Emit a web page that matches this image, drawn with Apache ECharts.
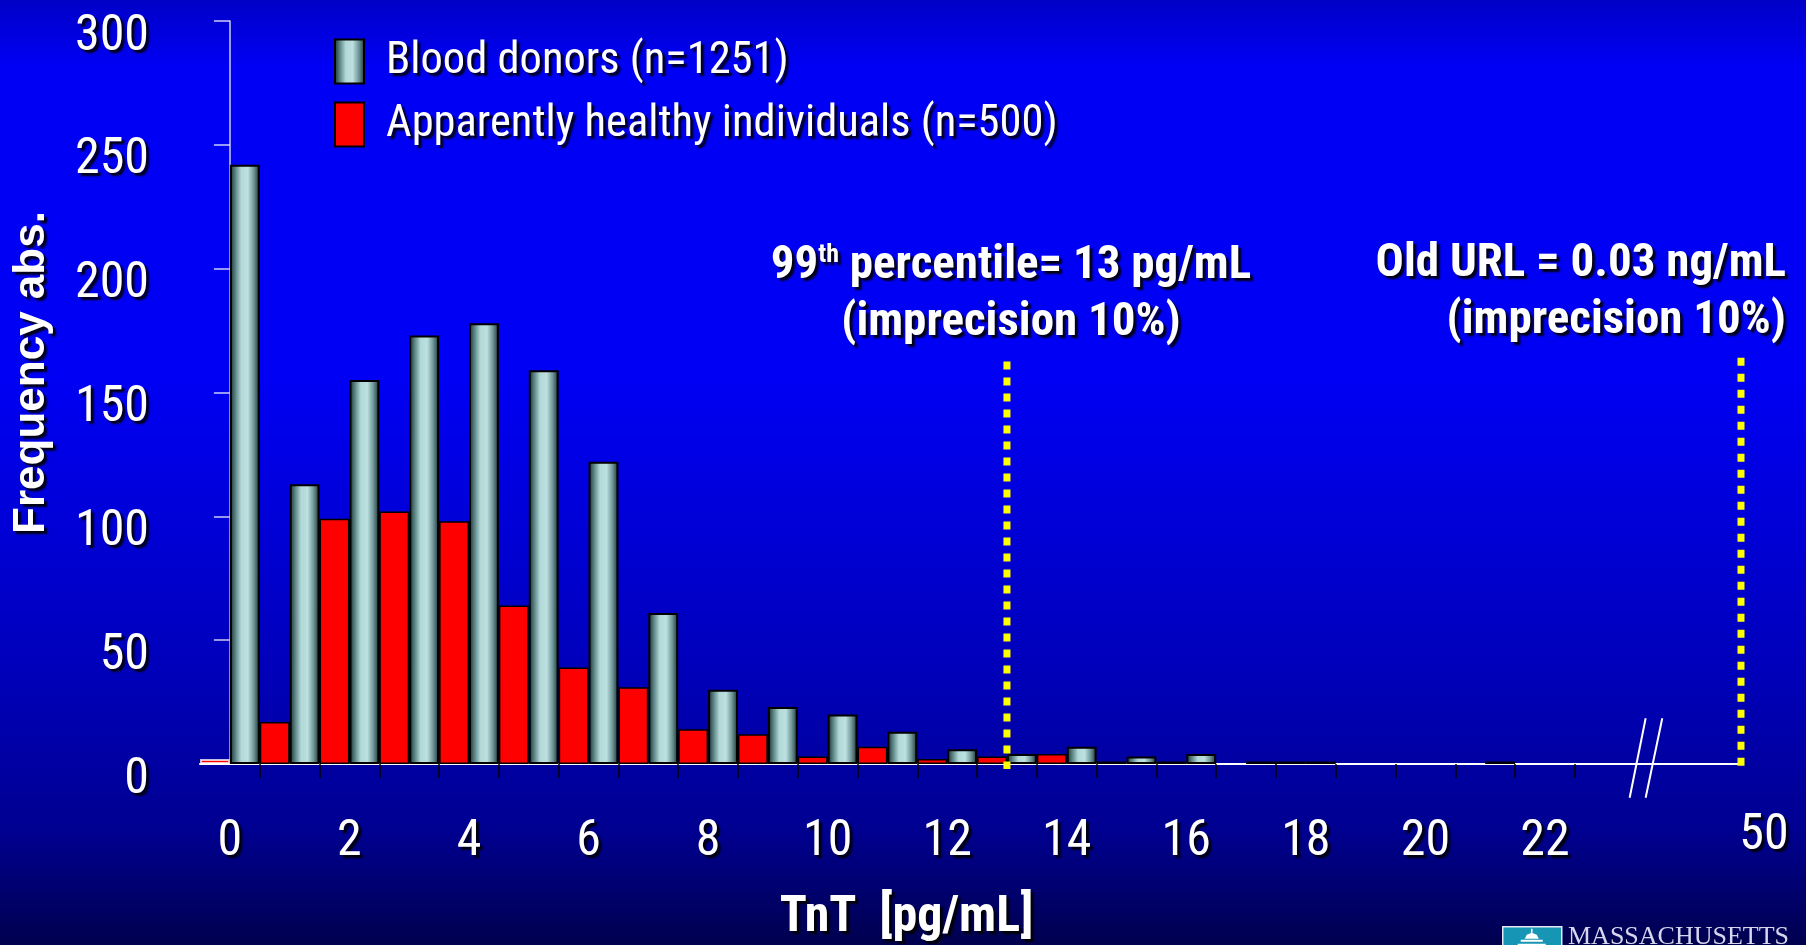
<!DOCTYPE html>
<html>
<head>
<meta charset="utf-8">
<title>TnT distribution</title>
<script src="https://cdn.jsdelivr.net/npm/echarts@6/dist/echarts.min.js"></script>
<style>
  html, body { margin: 0; padding: 0; width: 1806px; height: 945px; overflow: hidden; }
  #chart { width: 1806px; height: 945px; }
</style>
</head>
<body>
<div id="chart"></div>
<script>
// TnT bins in pg/mL; each bin holds one bar pair (healthy left, donors right)
const tntBins = [0, 1, 2, 3, 4, 5, 6, 7, 8, 9, 10, 11, 12, 13, 14, 15, 16, 17, 18, 19, 20, 21, 22];
const healthyCounts = [2, 17, 99, 102, 98, 64, 39, 31, 14, 12, 3, 7, 2, 3, 4, 1, 1, 0, 1, 0, 0, 0, 0];
const donorCounts = [242, 113, 155, 173, 178, 159, 122, 61, 30, 23, 20, 13, 6, 4, 7, 3, 4, 1, 1, 0, 0, 1, 0];

// axis labels
const xTickValues = [0, 2, 4, 6, 8, 10, 12, 14, 16, 18, 20, 22];
const farTickValue = 50;            // value shown after the axis break
const yMax = 300;
const yStep = 50;

// cut-off markers (pg/mL) and the heights their dotted lines span
const markerValues = [13, 50];
const markerTops = [162.5, 164];
const markerBottoms = [-2, -0.7];

const seriesNames = ['Apparently healthy individuals (n=500)', 'Blood donors (n=1251)'];

// broken axis: bins run up to 22.5, then the axis jumps to 50
const LAST_EDGE = tntBins[tntBins.length - 1] + 0.5;
const AXIS_END = 25.28;
const AXIS_BREAK = 23.67;
const axisPos = v => (v <= LAST_EDGE ? v : AXIS_END);

// Roboto with a condensed width stands in for a narrow sans
const NARROW = 'Roboto';
const SANS = "'Liberation Sans', Arial, sans-serif";
const SERIF = "'Liberation Serif', 'DejaVu Serif', serif";
const shadow = { textShadowColor: 'rgba(0,0,0,0.9)', textShadowBlur: 2, textShadowOffsetX: 3, textShadowOffsetY: 3 };

const donorGradient = {
  type: 'linear', x: 0, y: 0, x2: 1, y2: 0,
  colorStops: [
    { offset: 0, color: '#142a2c' },
    { offset: 0.18, color: '#5a8283' },
    { offset: 0.38, color: '#b2d8d8' },
    { offset: 0.6, color: '#bde0e0' },
    { offset: 0.8, color: '#6f9698' },
    { offset: 1, color: '#182e30' }
  ]
};

function barData(counts, firstStyle) {
  const out = [];
  tntBins.forEach((b, i) => {
    if (counts[i] > 0) {
      const item = { value: [b, counts[i]] };
      if (i === 0 && firstStyle) item.itemStyle = firstStyle;
      out.push(item);
    }
  });
  return out;
}

const chart = echarts.init(document.getElementById('chart'), null, { renderer: 'canvas' });

const markerSeries = markerValues.map((v, i) => ({
  type: 'line',
  name: 'marker' + i,
  silent: true,
  clip: false,
  symbol: 'none',
  z: 4,
  lineStyle: { color: '#ffff00', width: 7, type: [8, 8], cap: 'butt' },
  emphasis: { disabled: true },
  data: [[axisPos(v), markerTops[i]], [axisPos(v), markerBottoms[i]]]
}));

const option = {
  animation: false,
  backgroundColor: {
    type: 'linear', x: 0, y: 0, x2: 0, y2: 1,
    colorStops: [
      { offset: 0, color: '#0000c8' },
      { offset: 0.07, color: '#0000f4' },
      { offset: 0.4, color: '#0000f4' },
      { offset: 0.72, color: '#0000b8' },
      { offset: 0.88, color: '#000090' },
      { offset: 1, color: '#00004e' }
    ]
  },
  grid: { left: 200, right: 65, top: 21, bottom: 181, containLabel: false, outerBoundsMode: 'none' },
  legend: {
    orient: 'vertical',
    left: 334, top: 38,
    padding: 0,
    itemWidth: 29, itemHeight: 44, itemGap: 16,
    icon: 'rect',
    data: [seriesNames[1], seriesNames[0]],
    textStyle: {
      color: '#fff', fontFamily: NARROW, fontWeight: 'condensed', fontSize: 44.5, lineHeight: 44,
      padding: [3, 0, 0, 17], ...shadow
    }
  },
  xAxis: {
    type: 'value',
    min: -0.5, max: AXIS_END,
    name: 'TnT  [pg/mL]',
    nameLocation: 'middle',
    nameGap: 129,
    nameTextStyle: {
      color: '#fff', fontFamily: NARROW, fontWeight: 'bold condensed', fontSize: 50,
      padding: [0, 128, 0, 0], ...shadow
    },
    splitLine: { show: false },
    axisLine: { show: true, onZero: false, lineStyle: { color: '#ffffff', width: 2 } },
    axisTick: {
      show: true, length: 14,
      customValues: tntBins.map(b => b + 0.5),
      lineStyle: { color: '#000', width: 1.5 }
    },
    axisLabel: {
      customValues: xTickValues.concat([axisPos(farTickValue)]),
      formatter: v => (v === axisPos(farTickValue) ? '{far|' + farTickValue + '}' : String(v)),
      margin: 53, lineHeight: 50,
      color: '#fff', fontFamily: NARROW, fontWeight: 'condensed', fontSize: 50, ...shadow,
      rich: {
        far: {
          color: '#fff', fontFamily: NARROW, fontWeight: 'condensed', fontSize: 50, lineHeight: 38,
          padding: [0, 0, 0, 46], ...shadow
        }
      }
    }
  },
  yAxis: {
    type: 'value',
    min: 0, max: yMax, interval: yStep,
    name: 'Frequency abs.',
    nameLocation: 'middle',
    nameRotate: 90,
    nameGap: 146,
    nameTextStyle: {
      color: '#fff', fontFamily: SANS, fontWeight: 'bold', fontSize: 44,
      padding: [0, 0, 0, 40], ...shadow
    },
    splitLine: { show: false },
    axisLine: { show: true, lineStyle: { color: 'rgba(255,255,255,0.8)', width: 1.5 } },
    axisTick: { show: true, length: 16, lineStyle: { color: 'rgba(255,255,255,0.8)', width: 1.5 } },
    axisLabel: {
      margin: 51, verticalAlign: 'top', lineHeight: 32,
      color: '#fff', fontFamily: NARROW, fontWeight: 'condensed', fontSize: 50, ...shadow
    }
  },
  series: [
    {
      name: seriesNames[0],
      type: 'bar',
      barGap: '0%', barCategoryGap: '0%',
      itemStyle: { color: '#ff0000', borderColor: '#000', borderWidth: 1.5 },
      emphasis: { disabled: true },
      data: barData(healthyCounts, { borderColor: 'rgba(255,255,255,0.75)', borderWidth: 2 })
    },
    {
      name: seriesNames[1],
      type: 'bar',
      barGap: '0%', barCategoryGap: '0%',
      itemStyle: { color: donorGradient, borderColor: '#000', borderWidth: 2 },
      emphasis: { disabled: true },
      data: barData(donorCounts)
    }
  ].concat(markerSeries)
};

chart.setOption(option);

// annotations, axis-break marks and the footer logo, placed from the chart's own scales
const px = p => chart.convertToPixel({ gridIndex: 0 }, p);
const [p99x, p99top] = px([axisPos(markerValues[0]), markerTops[0]]);
const [urlX, urlTop] = px([axisPos(markerValues[1]), markerTops[1]]);
const [brkX, brkY] = px([AXIS_BREAK, 0]);

const anno = { fill: '#fff', fontFamily: NARROW, fontWeight: 'bold condensed', fontSize: 47, lineHeight: 57, ...shadow };

chart.setOption({
  graphic: [
    {
      type: 'text', silent: true,
      style: {
        x: p99x + 4, y: p99top - 10,
        align: 'center', verticalAlign: 'bottom',
        text: '{b|99}{sup|th}{b| percentile= 13 pg/mL}\n{b|(imprecision 10%)}',
        rich: {
          b: anno,
          sup: { ...anno, fontSize: 26, lineHeight: 26, verticalAlign: 'top', padding: [5, 0, 0, 0] }
        }
      }
    },
    {
      type: 'text', silent: true,
      style: {
        x: urlX + 45, y: urlTop - 8,
        align: 'right', verticalAlign: 'bottom',
        text: '{b|Old URL = 0.03 ng/mL}\n{b|(imprecision 10%)}',
        rich: { b: anno }
      }
    },
    {
      type: 'line', silent: true,
      shape: { x1: brkX + 0.9, y1: brkY - 45.7, x2: brkX - 15.1, y2: brkY + 33.7 },
      style: { stroke: '#ffffff', lineWidth: 2 }
    },
    {
      type: 'line', silent: true,
      shape: { x1: brkX + 17.5, y1: brkY - 45.7, x2: brkX + 0.9, y2: brkY + 33.7 },
      style: { stroke: '#ffffff', lineWidth: 2 }
    },
    {
      type: 'group', silent: true, left: 1502, top: 926,
      children: [
        { type: 'rect', shape: { x: 0, y: 0, width: 59, height: 24 }, style: { fill: '#1795b5', stroke: '#e6e6f6', lineWidth: 1.5 } },
        { type: 'polygon', shape: { points: [[22, 12], [24, 8], [29, 6], [34, 8], [36, 12]] }, style: { fill: '#ffffff' } },
        { type: 'rect', shape: { x: 18, y: 13, width: 22, height: 2 }, style: { fill: '#ffffff' } },
        { type: 'rect', shape: { x: 15, y: 17, width: 28, height: 2 }, style: { fill: '#ffffff' } },
        { type: 'rect', shape: { x: 28.2, y: 2, width: 1.6, height: 4 }, style: { fill: '#ffffff' } }
      ]
    },
    {
      type: 'text', silent: true,
      style: {
        x: 1568, y: 924.5, verticalAlign: 'top',
        text: 'MASSACHUSETTS',
        fontFamily: SERIF, fontSize: 26, fill: '#d6d6ee'
      }
    }
  ]
});
</script>
</body>
</html>
